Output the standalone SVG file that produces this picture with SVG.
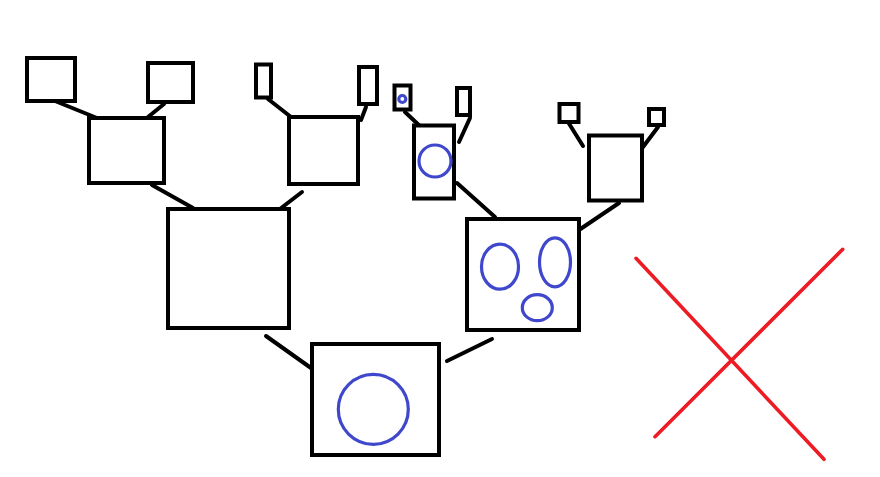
<svg xmlns="http://www.w3.org/2000/svg" width="880" height="477" viewBox="0 0 880 477">
<style>
.n{fill:#fff;stroke:#000;stroke-width:4}
.c{stroke:#000;stroke-width:4;stroke-linecap:round}
.b{fill:none;stroke:#3f48cc;stroke-width:3.2}
.x{stroke:#ed1c24;stroke-width:3.6;stroke-linecap:round}
</style>
<rect width="880" height="477" fill="#fff"/>
<g id="connectors">
<line class="c" x1="55" y1="101" x2="97" y2="118"/>
<line class="c" x1="164" y1="104" x2="148" y2="117"/>
<line class="c" x1="152" y1="185" x2="193" y2="208"/>
<line class="c" x1="268" y1="99" x2="291" y2="117"/>
<line class="c" x1="366" y1="107" x2="361" y2="120"/>
<line class="c" x1="302" y1="192" x2="276" y2="212"/>
<line class="c" x1="405" y1="112" x2="423" y2="129"/>
<line class="c" x1="470" y1="118" x2="459" y2="142"/>
<line class="c" x1="457" y1="183" x2="495" y2="217"/>
<line class="c" x1="568" y1="122" x2="583" y2="146"/>
<line class="c" x1="658" y1="127" x2="640" y2="151"/>
<line class="c" x1="619" y1="203" x2="576" y2="232"/>
<line class="c" x1="266" y1="336" x2="311" y2="368"/>
<line class="c" x1="492" y1="339" x2="447" y2="361"/>
</g>
<g id="a1"><rect class="n" x="27" y="58" width="48" height="43"/></g>
<g id="a2"><rect class="n" x="148" y="63" width="45" height="39"/></g>
<g id="a"><rect class="n" x="89" y="118" width="75" height="65"/></g>
<g id="b"><rect class="n" x="168" y="209" width="121" height="119"/></g>
<g id="c1"><rect class="n" x="256" y="64.5" width="15" height="33"/></g>
<g id="c2"><rect class="n" x="359" y="67" width="18" height="37"/></g>
<g id="c"><rect class="n" x="289" y="117" width="69" height="67"/></g>
<g id="d1"><rect class="n" x="394.5" y="85.5" width="16" height="24"/><circle class="b" cx="402.3" cy="99" r="3.5"/></g>
<g id="d2"><rect class="n" x="457" y="88" width="13" height="27"/></g>
<g id="d"><rect class="n" x="414" y="125.5" width="40" height="73"/><circle class="b" cx="435" cy="161" r="16"/></g>
<g id="f1"><rect class="n" x="559.5" y="104" width="19" height="18"/></g>
<g id="f2"><rect class="n" x="649" y="109" width="15" height="16"/></g>
<g id="f"><rect class="n" x="589" y="135.5" width="53" height="65"/></g>
<g id="e"><rect class="n" x="467" y="219" width="112" height="111"/>
<ellipse class="b" cx="500" cy="266.7" rx="18.5" ry="22.5"/>
<ellipse class="b" cx="555" cy="262.3" rx="15.5" ry="24.5"/>
<ellipse class="b" cx="537.3" cy="307.7" rx="15" ry="13"/></g>
<g id="root"><rect class="n" x="312" y="344" width="127" height="111"/><circle class="b" cx="373.3" cy="409.3" r="35"/></g>
<g id="cross">
<line class="x" x1="636" y1="258.3" x2="824" y2="459.3"/>
<line class="x" x1="842.7" y1="249.3" x2="655" y2="436.7"/>
</g>
</svg>
